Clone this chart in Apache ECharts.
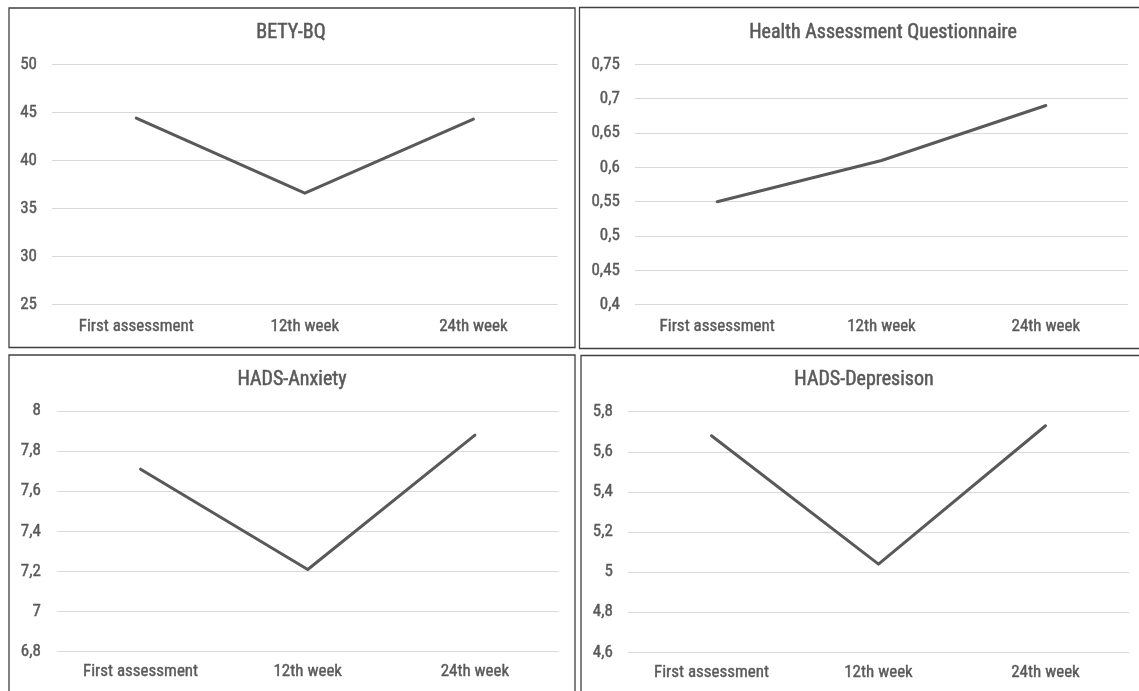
<!DOCTYPE html>
<html>
<head>
<meta charset="utf-8">
<script src="https://cdn.jsdelivr.net/npm/echarts@6/dist/echarts.min.js"></script>
<style>
html,body{margin:0;padding:0;background:#fff;}
#c{width:1139px;height:691px;}
</style>
</head>
<body>
<div id="c"></div>
<script>
const categories = ['First assessment', '12th week', '24th week'];
const betyValues = [44.4, 36.6, 44.3];
const haqValues = [0.55, 0.61, 0.69];
const anxietyValues = [7.71, 7.21, 7.88];
const depressionValues = [5.68, 5.04, 5.73];
const panelTitles = ['BETY-BQ', 'Health Assessment Questionnaire', 'HADS-Anxiety', 'HADS-Depresison'];
const yMins = [25, 0.4, 6.8, 4.6];
const yMaxs = [50, 0.75, 8, 5.8];
const yIntervals = [5, 0.05, 0.2, 0.2];

const seriesData = [betyValues, haqValues, anxietyValues, depressionValues];

const FONT = '"Roboto Condensed", "Liberation Sans Narrow", sans-serif';
const TXT = '#595959';

// layout (pixels)
const grids = [
  {left: 52, top: 64.3, width: 505.7, height: 240.4},
  {left: 635, top: 64.3, width: 493, height: 240.4},
  {left: 57, top: 411, width: 501.5, height: 240.7},
  {left: 628, top: 411.7, width: 501, height: 240.6}
];
const boxes = [
  {x: 9, y: 8, width: 566, height: 339.5},
  {x: 579.5, y: 7.5, width: 620, height: 341},
  {x: 9, y: 355, width: 566, height: 400},
  {x: 581, y: 355.5, width: 620, height: 400}
];
const titlePos = [[291, 33], [883, 33], [292, 380], [864, 380]];
const xLabelMargins = [14, 14, 12, 12];
const yLabelMargins = [15, 15, 16, 15];

function fmt(v) {
  return String(parseFloat(v.toFixed(2))).replace('.', ',');
}

const labelStyle = {color: TXT, fontFamily: FONT, fontSize: 17, textBorderColor: TXT, textBorderWidth: 0.4};

const option = {
  animation: false,
  backgroundColor: '#fff',
  grid: grids.map(g => Object.assign({containLabel: false}, g)),
  xAxis: grids.map((g, i) => ({
    type: 'category',
    gridIndex: i,
    data: categories,
    boundaryGap: true,
    axisLine: {show: false},
    axisTick: {show: false},
    axisLabel: Object.assign({margin: xLabelMargins[i], interval: 0}, labelStyle),
    splitLine: {show: false}
  })),
  yAxis: grids.map((g, i) => ({
    type: 'value',
    gridIndex: i,
    min: yMins[i],
    max: yMaxs[i],
    interval: yIntervals[i],
    axisLine: {show: false},
    axisTick: {show: false},
    axisLabel: Object.assign({margin: yLabelMargins[i], formatter: fmt}, labelStyle),
    splitLine: {show: true, lineStyle: {color: '#d9d9d9', width: 1.2}}
  })),
  series: seriesData.map((d, i) => ({
    type: 'line',
    xAxisIndex: i,
    yAxisIndex: i,
    data: d,
    showSymbol: false,
    symbol: 'none',
    lineStyle: {color: '#595959', width: 3, cap: 'round', join: 'round'},
    itemStyle: {color: '#595959'}
  })),
  graphic: boxes.map(b => ({
    type: 'rect',
    shape: b,
    style: {fill: 'none', stroke: '#404040', lineWidth: 1.3},
    silent: true,
    z: 10
  })).concat(panelTitles.map((t, i) => ({
    type: 'text',
    x: titlePos[i][0],
    y: titlePos[i][1],
    style: {text: t, fill: TXT, stroke: TXT, lineWidth: 0.5, font: '20px ' + FONT, align: 'center', verticalAlign: 'middle'},
    z: 10
  })))
};

const chart = echarts.init(document.getElementById('c'), null, {renderer: 'canvas'});
chart.setOption(option);
</script>
</body>
</html>
